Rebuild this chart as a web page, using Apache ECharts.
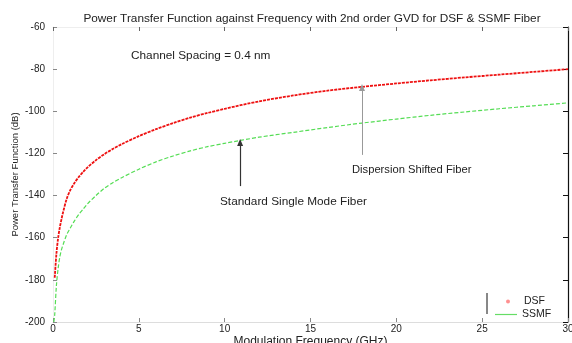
<!DOCTYPE html>
<html>
<head>
<meta charset="utf-8">
<script src="https://cdn.jsdelivr.net/npm/echarts@6/dist/echarts.min.js"></script>
<style>
  html, body { margin: 0; padding: 0; background: #fff; }
  #chart { width: 572px; height: 343px; }
</style>
</head>
<body>
<div id="chart"></div>
<script>
// values (frequency in GHz, transfer function in dB)
var dsfFreq = [0.1, 0.2, 0.3, 0.4, 0.5, 0.6, 0.8, 1, 1.25, 1.5, 1.75, 2, 2.5, 3, 3.5, 4, 5, 6, 7, 8, 9, 10, 12, 14, 16, 18, 20, 22, 24, 26, 28, 30];
var dsfValues = [-179, -167.5, -160, -155, -151, -147.5, -141.5, -137.5, -134, -131.2, -128.8, -126.7, -123.2, -120.3, -117.8, -115.6, -111.8, -108.5, -105.6, -103, -100.8, -98.8, -95.3, -92.5, -90.2, -88.4, -86.8, -85.3, -83.9, -82.6, -81.3, -80];

var ssmfFreq = [0.05, 0.1, 0.2, 0.3, 0.4, 0.5, 0.6, 0.8, 1, 1.25, 1.5, 1.75, 2, 2.5, 3, 3.5, 4, 5, 6, 7, 8, 9, 10, 12, 14, 16, 18, 20, 22, 24, 26, 28, 30];
var ssmfValues = [-200, -196.5, -182.5, -174.5, -169, -165.5, -163, -158.5, -155.5, -152, -149, -146.5, -144, -140, -136.5, -133.8, -131.5, -127.5, -124, -121.2, -118.8, -116.8, -115.2, -112.3, -110, -107.7, -105.6, -103.7, -101.9, -100.3, -98.8, -97.4, -96];

// arrow annotations [x, yStart, yEnd]
var dsfArrow = [18, -120.7, -88.7];
var ssmfArrow = [10.9, -135.5, -114.8];

function pairs(xs, ys) {
    var out = [];
    for (var i = 0; i < xs.length; i++) out.push([xs[i], ys[i]]);
    return out;
}

var txt = '#222';
var font = 'Liberation Sans';
var legendText = { fontSize: 10.5, color: txt, fontFamily: font };

var option = {
    animation: false,
    title: {
        text: 'Power Transfer Function against Frequency with 2nd order GVD for DSF & SSMF Fiber',
        left: 307,
        textAlign: 'center',
        top: 8,
        textStyle: { fontSize: 11.8, fontWeight: 'normal', color: txt, fontFamily: font }
    },
    grid: { left: 53, right: 4, top: 27, bottom: 21, outerBoundsMode: 'none', containLabel: false },
    legend: [{
        left: 501,
        top: 291,
        itemWidth: 22,
        itemHeight: 4,
        textStyle: legendText,
        data: [{ name: 'DSF', icon: 'circle', itemStyle: { color: '#ff9090' } }]
    }, {
        left: 490,
        top: 304,
        itemWidth: 22,
        itemHeight: 1.2,
        textStyle: legendText,
        data: [{ name: 'SSMF', icon: 'rect', itemStyle: { color: '#66dd66' } }]
    }],
    xAxis: [{
        type: 'value',
        min: 0, max: 30, interval: 5,
        name: 'Modulation Frequency (GHz)',
        nameLocation: 'middle',
        nameGap: 14,
        nameMoveOverlap: false,
        nameTextStyle: { fontSize: 12, color: txt, fontFamily: font },
        axisLine: { onZero: false, lineStyle: { color: '#ddd' } },
        axisTick: { inside: true, length: 4, lineStyle: { color: '#888' } },
        axisLabel: { fontSize: 10, color: txt, fontFamily: font, margin: 2 },
        splitLine: { show: false }
    }, {
        type: 'value',
        position: 'top',
        min: 0, max: 30, interval: 5,
        axisLine: { onZero: false, lineStyle: { color: '#eee' } },
        axisTick: { inside: true, length: 4, lineStyle: { color: '#666' } },
        axisLabel: { show: false },
        splitLine: { show: false }
    }],
    yAxis: [{
        type: 'value',
        min: -200, max: -60, interval: 20,
        name: 'Power Transfer Function (dB)',
        nameLocation: 'middle',
        nameGap: 33,
        nameMoveOverlap: false,
        nameTextStyle: { fontSize: 9.5, color: txt, fontFamily: font },
        axisLine: { show: true, onZero: false, lineStyle: { color: '#eee' } },
        axisTick: { show: true, inside: true, length: 4, lineStyle: { color: '#888' } },
        axisLabel: { fontSize: 10, color: txt, fontFamily: font, margin: 8 },
        splitLine: { show: false }
    }, {
        type: 'value',
        position: 'right',
        min: -200, max: -60, interval: 20,
        axisLine: { show: true, onZero: false, lineStyle: { color: '#111', width: 1.2 } },
        axisTick: { show: true, inside: true, length: 5, lineStyle: { color: '#111' } },
        axisLabel: { show: false },
        splitLine: { show: false }
    }],
    series: [
        {
            name: 'DSF',
            type: 'line',
            smooth: 0.3,
            symbol: 'none',
            data: pairs(dsfFreq, dsfValues),
            lineStyle: { color: '#ee1111', width: 1.8, type: [3, 1] },
            itemStyle: { color: '#ee1111' },
            markLine: {
                silent: true,
                symbol: ['none', 'triangle'],
                symbolSize: [6, 7],
                label: { show: false },
                lineStyle: { color: '#999', width: 1, type: 'solid' },
                itemStyle: { color: '#111' },
                data: [
                    [{ coord: [dsfArrow[0], dsfArrow[1]] }, { coord: [dsfArrow[0], dsfArrow[2]] }]
                ]
            }
        },
        {
            name: 'SSMF',
            type: 'line',
            smooth: 0.3,
            symbol: 'none',
            data: pairs(ssmfFreq, ssmfValues),
            lineStyle: { color: '#55dd55', width: 1.2, type: [4, 2] },
            itemStyle: { color: '#66dd66' },
            markLine: {
                silent: true,
                symbol: ['none', 'triangle'],
                symbolSize: [6, 7],
                label: { show: false },
                lineStyle: { color: '#333', width: 1.2, type: 'solid' },
                itemStyle: { color: '#111' },
                data: [
                    [{ coord: [ssmfArrow[0], ssmfArrow[1]] }, { coord: [ssmfArrow[0], ssmfArrow[2]] }]
                ]
            }
        }
    ],
    graphic: [
        { type: 'text', left: 131, top: 50, style: { text: 'Channel Spacing = 0.4 nm', fontSize: 11.8, fill: txt, fontFamily: font } },
        { type: 'text', left: 352, top: 164, style: { text: 'Dispersion Shifted Fiber', fontSize: 11.2, fill: txt, fontFamily: font } },
        { type: 'text', left: 220, top: 196, style: { text: 'Standard Single Mode Fiber', fontSize: 11.8, fill: txt, fontFamily: font } },
        { type: 'line', shape: { x1: 487, y1: 293, x2: 487, y2: 314 }, style: { stroke: '#111', lineWidth: 1 } }
    ]
};

var myChart = echarts.init(document.getElementById('chart'));
myChart.setOption(option);
</script>
</body>
</html>
